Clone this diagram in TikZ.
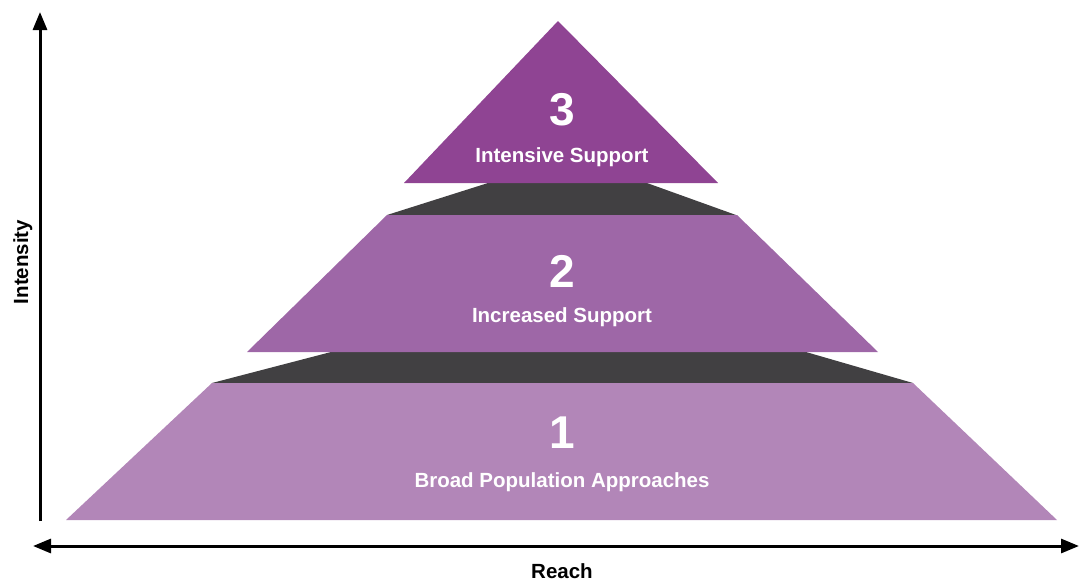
\documentclass[tikz,border=0pt]{standalone}
\usepackage{fontspec}
\setmainfont{Liberation Sans}
\definecolor{tierone}{RGB}{178, 134, 184}
\definecolor{tiertwo}{RGB}{158, 103, 167}
\definecolor{tierthree}{RGB}{143, 68, 147}
\definecolor{gapgray}{RGB}{65, 64, 66}
\usetikzlibrary{arrows.meta, positioning}
\tikzset{
    tiernum/.style={text=white, anchor=base, font=\fontsize{46}{46}\selectfont\bfseries},
    tierlabel/.style={text=white, anchor=base, font=\fontsize{20.5}{20.5}\selectfont\bfseries},
    axislabel/.style={anchor=base, font=\fontsize{20.5}{20.5}\selectfont\bfseries},
    axisarrow/.style={line width=3pt, -{Triangle[length=18pt, width=14pt]}},
}

\begin{document}
\begin{tikzpicture}[x=1pt, y=-1pt]
    \useasboundingbox (0,0) rectangle (1080,582);

    % Dark bands between the tiers
    \fill[gapgray] (488,183) -- (647,183) -- (736,215) -- (387,215) -- cycle;
    \fill[gapgray] (331,352) -- (806,352) -- (913,383) -- (212,383) -- cycle;

    % Tiers
    \fill[tierone] (212,383) -- (913,383) -- (1057,520) -- (66,520) -- cycle;
    \fill[tiertwo] (387,215) -- (737,215) -- (878,352) -- (247,352) -- cycle;
    \fill[tierthree] (558,21) -- (718,183) -- (404,183) -- cycle;

    % Tier texts
    \node[tiernum] (num3) at (562,125) {3};
    \node[tierlabel] (lab3) at (562,162) {Intensive Support};
    \node[tiernum] (num2) at (562,287) {2};
    \node[tierlabel] (lab2) at (562,322) {Increased Support};
    \node[tiernum] (num1) at (562,448) {1};
    \node[tierlabel] (lab1) at (562,487) {Broad Population Approaches};

    % Axes
    \coordinate (ybottom) at (40,521);
    \coordinate (ytop) at (40,12);
    \coordinate (xleft) at (33,546);
    \coordinate (xright) at (1079,546);
    \draw[axisarrow] (ybottom) -- (ytop);
    \draw[axisarrow, {Triangle[length=18pt, width=14pt]}-{Triangle[length=18pt, width=14pt]}] (xleft) -- (xright);

    \node[axislabel, rotate=90] (intensity) at (28,262) {Intensity};
    \node[axislabel] (reach) at (562,578) {Reach};
\end{tikzpicture}
\end{document}
